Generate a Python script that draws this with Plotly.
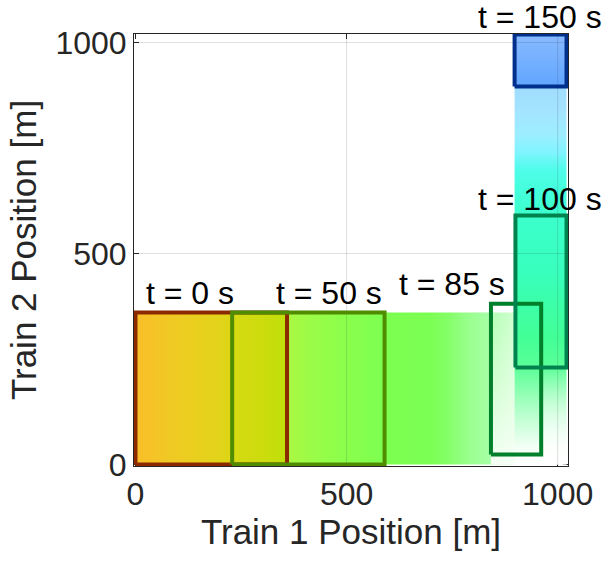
import plotly.graph_objects as go

# ---------------- data ----------------
# key frames (snapshot boxes)
key_t = [0, 50, 85, 100, 150]
key_x0 = [0, 229, 842, 900, 898]
key_x1 = [359, 590, 961, 1021, 1021]
key_y0 = [0, 0, 24, 230, 896]
key_y1 = [360, 360, 381, 590, 1019]
key_edge = ['#8B2A00', '#4F8C00', '#00802A', '#00834E', '#00308C']
label_text = ['t = %d s' % t for t in key_t]
label_x = [129, 458, 749, 957, 958]
label_y = [406, 406, 427, 630, 1060]

# swept region along Train 1 (horizontal band), colour samples
sweep1_x = [0, 100, 228, 232, 300, 357, 361, 420, 500, 586, 700, 740, 790, 838, 845, 898]
sweep1_col = ['#F9BE2A', '#EECB22', '#DDD616', '#D6D913', '#CDDC0D', '#BFE00A',
              '#AAF842', '#9AFC47', '#8AFE4C', '#7DFF50', '#7CFF54', '#84FF68',
              '#9AFF8E', '#A6FFA6', '#B6FFB6', '#D0FFD0']
sweep1_y = [0, 360]

# swept region along Train 2 (vertical band), colour samples
sweep2_y = [0, 40, 100, 160, 230, 300, 380, 450, 590, 650, 700, 740, 780, 840, 894, 898, 1019]
sweep2_col = ['#FFFFFF', '#F4FFF6', '#C8FFD8', '#98FFB8', '#5CFF98', '#42FF96',
              '#3CFFA8', '#38FFBC', '#3CFFCC', '#44FFDC', '#50FCEA', '#80F4FF',
              '#9CEEFF', '#A4E4FF', '#A0DCFF', '#62A6FF', '#88BAFF']
sweep2_x = [898, 1021]

# fading (few overlapping frames) near the corner
fade1_x = [842, 898]
fade1_y = [0, 180, 360]
fade1_a = [0.85, 0.4, 0.0]
fade2_x = [961, 1021]
fade2_y = [0, 120, 230]
fade2_a = [0.9, 0.45, 0.0]

tick_vals = [0, 500, 1000]
x_range = [-3.5, 1024.5]
y_range = [-3.5, 1020.2]

FONT = 'Liberation Sans, Arial, sans-serif'


def rect(x0, x1, y0, y1):
    return [x0, x1, x1, x0, x0], [y0, y0, y1, y1, y0]


def scale(pos, cols):
    lo, hi = pos[0], pos[-1]
    return [[(p - lo) / (hi - lo), c] for p, c in zip(pos, cols)]


fig = go.Figure()

# horizontal swept band
xs, ys = rect(sweep1_x[0], sweep1_x[-1], sweep1_y[0], sweep1_y[1])
fig.add_trace(go.Scatter(x=xs, y=ys, mode='lines', fill='toself',
                         line=dict(width=0, color='rgba(0,0,0,0)'),
                         fillgradient=dict(type='horizontal', colorscale=scale(sweep1_x, sweep1_col),
                                           start=sweep1_x[0], stop=sweep1_x[-1]),
                         hoverinfo='skip', showlegend=False))
# fade overlay 1
xs, ys = rect(fade1_x[0], fade1_x[1], fade1_y[0], fade1_y[-1])
fig.add_trace(go.Scatter(x=xs, y=ys, mode='lines', fill='toself',
                         line=dict(width=0, color='rgba(0,0,0,0)'),
                         fillgradient=dict(type='vertical',
                                           colorscale=scale(fade1_y, ['rgba(255,255,255,%g)' % a for a in fade1_a]),
                                           start=fade1_y[0], stop=fade1_y[-1]),
                         hoverinfo='skip', showlegend=False))
# vertical swept band
xs, ys = rect(sweep2_x[0], sweep2_x[1], sweep2_y[0], sweep2_y[-1])
fig.add_trace(go.Scatter(x=xs, y=ys, mode='lines', fill='toself',
                         line=dict(width=0, color='rgba(0,0,0,0)'),
                         fillgradient=dict(type='vertical', colorscale=scale(sweep2_y, sweep2_col),
                                           start=sweep2_y[0], stop=sweep2_y[-1]),
                         hoverinfo='skip', showlegend=False))
# fade overlay 2
xs, ys = rect(fade2_x[0], fade2_x[1], fade2_y[0], fade2_y[-1])
fig.add_trace(go.Scatter(x=xs, y=ys, mode='lines', fill='toself',
                         line=dict(width=0, color='rgba(0,0,0,0)'),
                         fillgradient=dict(type='vertical',
                                           colorscale=scale(fade2_y, ['rgba(255,255,255,%g)' % a for a in fade2_a]),
                                           start=fade2_y[0], stop=fade2_y[-1]),
                         hoverinfo='skip', showlegend=False))

# grid lines on top of the swept area
for v in tick_vals[1:]:
    fig.add_trace(go.Scatter(x=[v, v], y=y_range, mode='lines',
                             line=dict(width=1, color='rgba(38,38,38,0.15)'),
                             hoverinfo='skip', showlegend=False))
    fig.add_trace(go.Scatter(x=x_range, y=[v, v], mode='lines',
                             line=dict(width=1, color='rgba(38,38,38,0.15)'),
                             hoverinfo='skip', showlegend=False))

# key-frame boxes and their labels
for i in range(len(key_t)):
    xs, ys = rect(key_x0[i], key_x1[i], key_y0[i], key_y1[i])
    fig.add_trace(go.Scatter(x=xs, y=ys, mode='lines',
                             line=dict(width=4, color=key_edge[i]),
                             hoverinfo='skip', showlegend=False))
    # position in the y-axis domain so labels above the axis range remain visible
    ydom = (label_y[i] - y_range[0]) / (y_range[1] - y_range[0])
    fig.add_annotation(x=label_x[i], xref='x', y=ydom, yref='y domain',
                       text=label_text[i], showarrow=False,
                       xanchor='center', yanchor='middle',
                       font=dict(family=FONT, size=32, color='#000000'))

axis_common = dict(tickvals=tick_vals, showgrid=False, zeroline=False, showline=True,
                   mirror='ticks', ticks='inside', ticklen=5, tickwidth=1,
                   linecolor='#262626', tickcolor='#262626', linewidth=1,
                   tickfont=dict(family=FONT, size=32, color='#262626'),
                   layer='below traces')

fig.update_layout(
    width=605, height=561,
    margin=dict(l=134, r=37, t=34, b=95),
    paper_bgcolor='white', plot_bgcolor='white',
    xaxis=dict(range=x_range, title=dict(text='Train 1 Position [m]', standoff=6,
                                         font=dict(family=FONT, size=35, color='#262626')),
               **axis_common),
    yaxis=dict(range=y_range, title=dict(text='Train 2 Position [m]', standoff=8,
                                         font=dict(family=FONT, size=35, color='#262626')),
               **axis_common),
)

fig.write_html('out.html')
